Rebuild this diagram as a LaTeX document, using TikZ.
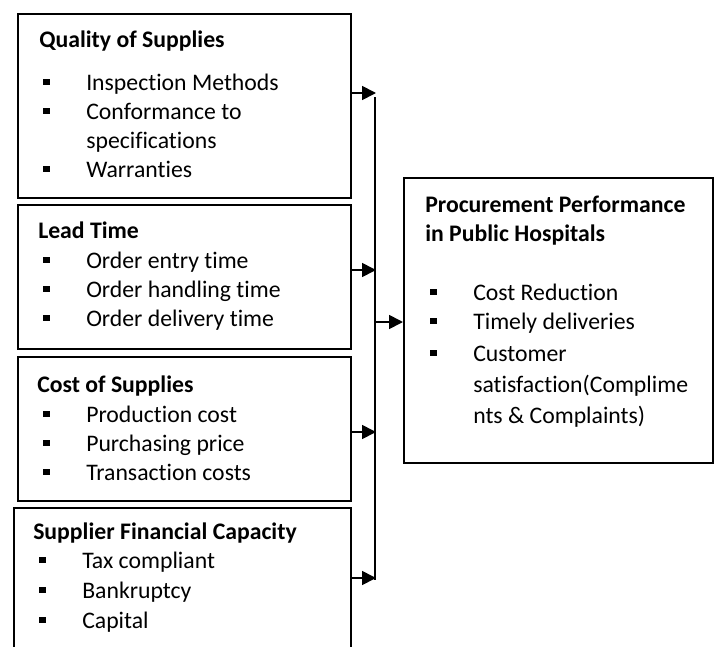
\documentclass[tikz,border=0pt]{standalone}
\usepackage{fontspec}
\setmainfont{Carlito}[Ligatures=NoCommon]
\usetikzlibrary{arrows.meta}
\newcommand{\sqbul}{\llap{\rule[3.4pt]{5.2pt}{5.2pt}\hspace{27.4pt}}}
\tikzset{
  box/.style={draw, line width=1.3pt, inner sep=0pt, anchor=north west},
  head/.style={anchor=base west, inner sep=0pt, font=\fontsize{17.8}{21.7}\selectfont\bfseries},
  entry/.style={anchor=base west, inner sep=0pt, font=\fontsize{17.8}{21.7}\selectfont},
  arr/.style={line width=1.3pt, -{Triangle[length=10.5pt,width=10.5pt]}}
}
\begin{document}
\begin{tikzpicture}[x=0.75pt,y=-0.75pt]
  \clip (0,0) rectangle (717,646);
  % boxes on the left
  \node[box, minimum width=249.75pt, minimum height=138pt] (quality) at (17,13) {};
  \node[box, minimum width=249.75pt, minimum height=108pt] (lead) at (17,204) {};
  \node[box, minimum width=249.75pt, minimum height=108pt] (cost) at (17,356) {};
  \node[box, minimum width=252.75pt, minimum height=130pt] (capacity) at (13,507) {};
  % box on the right
  \node[box, minimum width=231.75pt, minimum height=213.75pt] (performance) at (403,177) {};

  % texts
  \node[head] (qualityhead) at (39,47) {Quality of Supplies};
  \foreach \y/\t [count=\i] in {90/{\sqbul Inspection Methods}, 119/{\sqbul Conformance to},
      148/{specifications}, 177/{\sqbul Warranties}}
    \node[entry] (quality\i) at (86,\y) {\t};

  \node[head] (leadhead) at (38,238) {Lead Time};
  \foreach \y/\t [count=\i] in {268/{Order entry time}, 297/{Order handling time}, 326/{Order delivery time}}
    \node[entry] (lead\i) at (86,\y) {\sqbul\t};

  \node[head] (costhead) at (37,392) {Cost of Supplies};
  \foreach \y/\t [count=\i] in {422/{Production cost}, 451/{Purchasing price}, 480/{Transaction costs}}
    \node[entry] (cost\i) at (86,\y) {\sqbul\t};

  \node[head] (capacityhead) at (33,539) {Supplier Financial Capacity};
  \foreach \y/\t [count=\i] in {568/{Tax compliant}, 598/{Bankruptcy}, 628/{Capital}}
    \node[entry] (capacity\i) at (82,\y) {\sqbul\t};

  \node[head] (perfhead1) at (425,212) {Procurement Performance};
  \node[head] (perfhead2) at (425,241) {in Public Hospitals};
  \foreach \y/\t [count=\i] in {300/{\sqbul Cost Reduction}, 329/{\sqbul Timely deliveries},
      361/{\sqbul Customer}, 392/{satisfaction(Complime}, 423/{nts \& Complaints)}}
    \node[entry] (perf\i) at (473,\y) {\t};

  % connectors
  \coordinate (bus1) at (376,93);
  \coordinate (bus2) at (376,270);
  \coordinate (bus3) at (376,432);
  \coordinate (bus4) at (376,578);
  \coordinate (bus5) at (375,322);
  \draw[arr] (quality.east |- bus1) -- (bus1);
  \draw[arr] (lead.east |- bus2) -- (bus2);
  \draw[arr] (cost.east |- bus3) -- (bus3);
  \draw[arr] (capacity.east |- bus4) -- (bus4);
  \draw[line width=1.3pt] (375,97) -- (375,579.5);
  \draw[arr] (bus5) -- (performance.west |- bus5);
\end{tikzpicture}
\end{document}
